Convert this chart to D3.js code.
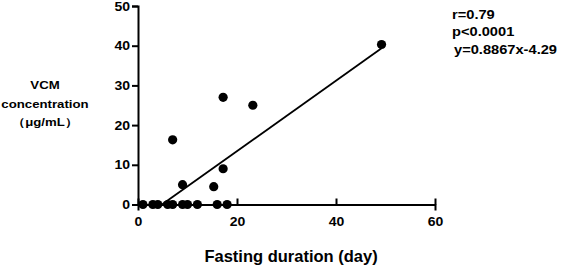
<!DOCTYPE html>
<html><head><meta charset="utf-8">
<script src="https://cdn.jsdelivr.net/npm/d3@7"></script>
<style>body{margin:0;background:#fff}svg{display:block}text{font-family:"Liberation Sans",Arial,sans-serif;font-weight:bold;fill:#000}</style>
</head><body><div id="c"></div>
<script>
const xValues = [1,3,4,6,7,9,10,12,16,18,7,9,15.3,17.2,17.2,23.2,49.2];
const yValues = [0,0,0,0,0,0,0,0,0,0,16.3,5,4.5,9,27,25,40.3];
const xTicks = [0,20,40,60];
const yTicks = [0,10,20,30,40,50];
const slope = 0.8867, intercept = -4.29;
const statLines = ["r=0.79","p<0.0001","y=0.8867x-4.29"];
const yLabelLines = ["VCM","concentration","（μg/mL）"];
const xLabel = "Fasting duration (day)";

const W=561,H=268;
const svg=d3.select("#c").append("svg").attr("width",W).attr("height",H);
const x=d3.scaleLinear().domain([0,60]).range([138,435]);
const y=d3.scaleLinear().domain([0,50]).range([204.5,6]);

function stretch(sel,f){
  sel.each(function(){const w=this.getComputedTextLength();
    d3.select(this).attr("textLength",w*f).attr("lengthAdjust","spacingAndGlyphs");});
}

const xAxis=svg.append("g").attr("transform","translate(0,"+y(0)+")")
 .call(d3.axisBottom(x).tickValues(xTicks).tickSize(6).tickPadding(4));
const yAxis=svg.append("g").attr("transform","translate("+x(0)+",0)")
 .call(d3.axisLeft(y).tickValues(yTicks).tickSize(6).tickPadding(2));
[xAxis,yAxis].forEach(g=>{
  g.attr("font-size",12.5).attr("font-family","'Liberation Sans',Arial,sans-serif").attr("font-weight","bold");
  g.select(".domain").attr("stroke","#000").attr("stroke-width",2);
  g.selectAll(".tick line").attr("stroke","#000").attr("stroke-width",2);
  g.selectAll(".tick text").attr("font-size",12.5).attr("fill","#000");
});
xAxis.selectAll(".tick line").attr("y2",-6);
xAxis.selectAll(".tick text").attr("dy","0.9em").attr("y",10);
stretch(xAxis.selectAll(".tick text"),1.12);
stretch(yAxis.selectAll(".tick text"),1.12);

// regression line
const x0=-intercept/slope, x1=d3.max(xValues);
svg.append("line").attr("x1",x(x0)).attr("y1",y(slope*x0+intercept))
 .attr("x2",x(x1)).attr("y2",y(slope*x1+intercept))
 .attr("stroke","#000").attr("stroke-width",1.8);

svg.append("g").selectAll("circle").data(xValues.map((d,i)=>[d,yValues[i]])).join("circle")
 .attr("cx",d=>x(d[0])).attr("cy",d=>y(d[1])).attr("r",4.6).attr("fill","#000");

const st=svg.append("g").selectAll("text").data(statLines).join("text")
 .attr("x",(d,i)=>i==2?454:452).attr("y",(d,i)=>18.5+i*17.5).attr("font-size",12).text(d=>d);
stretch(st,1.22);

const yl=svg.append("g").selectAll("text").data(yLabelLines).join("text")
 .attr("x",45).attr("y",(d,i)=>89+i*18.5).attr("text-anchor","middle").attr("font-size",11).text(d=>d);
stretch(yl,1.2);

svg.append("text").attr("x",291).attr("y",262).attr("text-anchor","middle").attr("font-size",16.5).text(xLabel);
</script></body></html>
